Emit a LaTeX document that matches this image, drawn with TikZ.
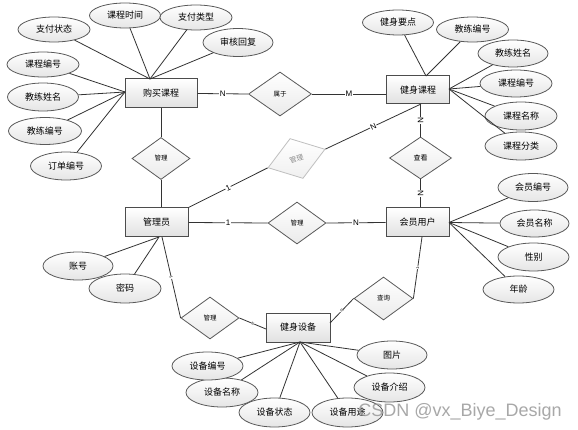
\documentclass[tikz,border=0pt]{standalone}
\usepackage{fontspec}
\setmainfont{Liberation Sans}
\newfontfamily\cjk{Noto Sans CJK SC}
\usetikzlibrary{shapes.geometric,calc}
\tikzset{
  ent/.style={draw=black!70, line width=1pt, top color=white, bottom color=black!12,
    minimum width=64pt, minimum height=29pt, inner sep=0pt, font=\cjk\fontsize{9}{9}\selectfont},
  attr/.style={ellipse, draw=black!65, line width=0.8pt, top color=white, bottom color=black!10,
    minimum width=71pt, minimum height=28pt, inner sep=0pt, font=\cjk\fontsize{9}{9}\selectfont},
  rel/.style={diamond, draw=black!65, line width=0.8pt, top color=white, bottom color=black!8,
    minimum width=58pt, minimum height=42pt, inner sep=0pt, font=\cjk\fontsize{6.5}{6.5}\selectfont},
  conn/.style={draw=black!80, line width=0.8pt},
  lab/.style={fill=white, inner sep=0.6pt, font=\fontsize{8}{8}\selectfont},
  tlab/.style={fill=white, inner sep=0.2pt, font=\fontsize{4}{4}\selectfont, sloped},
}
\begin{document}
\begin{tikzpicture}[x=1pt,y=-1pt]
\useasboundingbox (0,0) rectangle (578,430);
\fill[white] (0,0) rectangle (578,430);

% entities
\node[ent, minimum width=72pt] (buy) at (161,93.5) {购买课程};
\node[ent, minimum width=63pt, minimum height=28pt] (course) at (418,90) {健身课程};
\node[ent, minimum width=63pt] (admin) at (156.5,222.5) {管理员};
\node[ent, minimum width=63pt] (member) at (417.5,222.5) {会员用户};
\node[ent] (equip) at (298,327.5) {健身设备};

% relations
\node[rel, minimum width=63pt, minimum height=44pt] (shuyu) at (280,94) {属于};
\node[rel] (gl1) at (161,158.5) {管理};
\node[rel] (gl2) at (297,223) {管理};
\node[rel] (gl3) at (210,318) {管理};
\node[rel, minimum width=62pt, font=\cjk\fontsize{7}{7}\selectfont] (chakan) at (420.5,158) {查看};
\node[rel, minimum width=59pt, minimum height=43pt] (chaxun) at (383.5,298.5) {查询};
\node[rel, rotate=18, minimum width=60pt, draw=black!25, top color=white, bottom color=black!6,
      text=black!45, font=\cjk\fontsize{7}{7}\selectfont] (grey) at (296.5,158.5) {管理};

% attributes of 购买课程
\node[attr, minimum width=72pt, minimum height=25pt] (a1) at (54,29.5) {支付状态};
\node[attr, minimum height=25pt] (a2) at (125,15.5) {课程时间};
\node[attr, minimum width=72pt, minimum height=25pt] (a3) at (196,17.5) {支付类型};
\node[attr, minimum width=70pt] (a4) at (238,42.5) {审核回复};
\node[attr, minimum width=72pt, minimum height=25pt] (a5) at (43,64.5) {课程编号};
\node[attr] (a6) at (43,97) {教练姓名};
\node[attr, minimum width=73pt, minimum height=27pt] (a7) at (45,131) {教练编号};
\node[attr] (a8) at (66,166) {订单编号};

% attributes of 健身课程
\node[attr, minimum height=25pt] (b1) at (398,22.5) {健身要点};
\node[attr, minimum width=72pt, minimum height=25pt] (b2) at (472.5,29.5) {教练编号};
\node[attr, minimum width=70pt, minimum height=27pt] (b3) at (513,53.5) {教练姓名};
\node[attr, minimum width=72pt, minimum height=27pt] (b4) at (516,83.5) {课程编号};
\node[attr, minimum width=72pt] (b5) at (521,116) {课程名称};
\node[attr, minimum width=72pt] (b6) at (521,146) {课程分类};

% attributes of 管理员
\node[attr, minimum width=70pt] (c1) at (78,266) {账号};
\node[attr, minimum width=72pt, minimum height=29pt] (c2) at (125,288.5) {密码};

% attributes of 会员用户
\node[attr, minimum width=70pt] (d1) at (533,187.5) {会员编号};
\node[attr, minimum width=69pt, minimum height=27pt] (d2) at (534.5,223.5) {会员名称};
\node[attr] (d3) at (533.5,257) {性别};
\node[attr, minimum height=27pt] (d4) at (518.5,289.5) {年龄};

% attributes of 健身设备
\node[attr, minimum width=70pt] (e1) at (392,355) {图片};
\node[attr, minimum height=29pt] (e2) at (389.5,387.5) {设备介绍};
\node[attr, minimum height=29pt] (e3) at (347.5,412.5) {设备用途};
\node[attr, minimum height=29pt] (e4) at (274.5,412.5) {设备状态};
\node[attr, minimum width=72pt, minimum height=29pt] (e5) at (222,392.5) {设备名称};
\node[attr] (e6) at (207.5,366) {设备编号};

% convergence points
\coordinate (buyT) at (150,79);
\coordinate (buyL) at (125,92);
\coordinate (courseT) at (426,76);
\coordinate (courseR) at (449,89);
\coordinate (courseB) at (421,104);
\coordinate (adminB) at (159,237);
\coordinate (adminB2) at (162,237);
\coordinate (memberR) at (449,222.5);
\coordinate (memberB) at (422,237);
\coordinate (equipR) at (330,323);
\coordinate (equipL) at (266,329);
\coordinate (equipB) at (300,342);

% attribute connectors
\foreach \n in {a1,a2,a3,a4} \draw[conn] (\n) -- (buyT);
\foreach \n in {a5,a6,a7,a8} \draw[conn] (\n) -- (buyL);
\foreach \n in {b1,b2} \draw[conn] (\n) -- (courseT);
\foreach \n in {b3,b4,b5,b6} \draw[conn] (\n) -- (courseR);
\foreach \n in {c1,c2} \draw[conn] (\n) -- (adminB);
\foreach \n in {d1,d2,d3,d4} \draw[conn] (\n) -- (memberR);
\foreach \n in {e1,e2,e3,e4,e5,e6} \draw[conn] (\n) -- (equipB);

% relationship connectors
\draw[conn] (buy.east) -- node[lab] {N} (shuyu.west);
\draw[conn] (shuyu.east) -- node[lab] {M} (shuyu.east -| course.west);
\draw[conn] (buy.south) -- (gl1.north);
\draw[conn] (gl1.south) -- (gl1.south |- admin.north);
\draw[conn] (admin.north east) -- node[lab, sloped] {1} (grey.west);
\draw[conn] (grey.east) -- node[lab, sloped] {N} (courseB);
\draw[conn] (chakan.north |- course.south) -- node[lab, sloped] {N} (chakan.north);
\draw[conn] (chakan.south) -- node[lab, sloped] {N} (chakan.south |- member.north);
\draw[conn] (admin.east) -- node[lab] {1} (gl2.west);
\draw[conn] (gl2.east) -- node[lab] {N} (member.west);
\draw[conn] (adminB2) -- node[tlab] {1} (gl3.west);
\draw[conn] (gl3.east) -- node[tlab] {N} (equipL);
\draw[conn] (memberB) -- node[tlab] {1} (chaxun.east);
\draw[conn] (chaxun.west) -- node[tlab] {N} (equipR);

% watermark
\node[text=black!40, opacity=0.85, font=\fontsize{18}{18}\selectfont, inner sep=0pt] (wm) at (460,411.5) {CSDN @vx\_Biye\_Design};
\end{tikzpicture}
\end{document}
